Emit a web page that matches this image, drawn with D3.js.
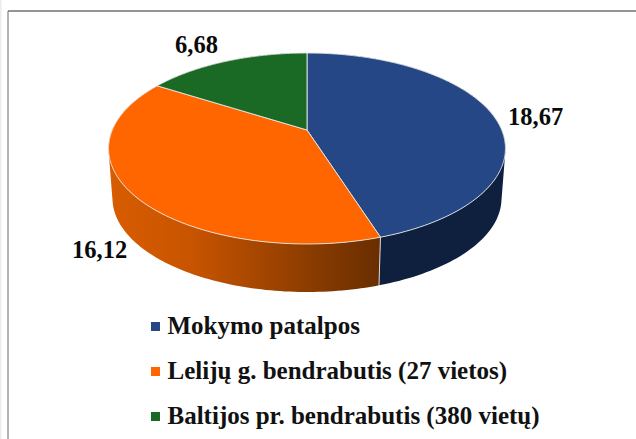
<!DOCTYPE html>
<html><head><meta charset="utf-8">
<script src="https://cdn.jsdelivr.net/npm/d3@7/dist/d3.min.js"></script>
<style>html,body{margin:0;padding:0;background:#fff}svg{display:block}</style>
</head><body><div id="c"></div>
<script>
const categories = ["Mokymo patalpos", "Lelijų g. bendrabutis (27 vietos)", "Baltijos pr. bendrabutis (380 vietų)"];
const values = [18.67, 16.12, 6.68];
const valueLabels = ["18,67", "16,12", "6,68"];
const topColors = ["#264785", "#ff6600", "#1a6a25"];
const labelPos = [[508,125],[72,258],[175,53]];

const W = 636, H = 439;
const svg = d3.select("#c").append("svg").attr("width", W).attr("height", H);
const defs = svg.append("defs");
const grad = defs.append("linearGradient").attr("id","og").attr("gradientUnits","userSpaceOnUse")
  .attr("x1",110).attr("x2",380).attr("y1",0).attr("y2",0);
grad.append("stop").attr("offset",0).attr("stop-color","#d85c00");
grad.append("stop").attr("offset",0.3).attr("stop-color","#c85400");
grad.append("stop").attr("offset",0.85).attr("stop-color","#7c3600");
grad.append("stop").attr("offset",1).attr("stop-color","#692e00");
const sideFills = ["#0f1f3e","url(#og)","#0f4a18"];

// frame
svg.append("rect").attr("x",0).attr("y",0).attr("width",1.5).attr("height",H).attr("fill","#ececec");
svg.append("line").attr("x1",8).attr("x2",W).attr("y1",11).attr("y2",11).attr("stroke","#2a2a2a").attr("stroke-width",1);
svg.append("line").attr("x1",8).attr("x2",8).attr("y1",11).attr("y2",H).attr("stroke","#6a6a6a").attr("stroke-width",1);

// projective pie
const cx = 307, cy = 130, k = 0.1937, Rx = 194.7, Ry = 91.9;
const scaleB = 0.98, depth = 50.3;
function project(a, bottom){
  const u = Math.sin(a), v = Math.cos(a), w = 1 + k*v;
  const x = Rx*u/w, y = -Ry*v/w;
  return bottom ? [cx + scaleB*x, cy + scaleB*y + depth] : [cx + x, cy + y];
}
const arcs = d3.pie().sort(null)(values);
const line = d3.line().curve(d3.curveLinear);
const samples = (a0,a1) => d3.range(0,121).map(i => a0 + (a1-a0)*i/120);

// sides: union of consistently wound quads, so the silhouette follows the rim tangents
const sides = svg.append("g");
[2,1,0].forEach(i=>{
  const d = arcs[i];
  const s = samples(d.startAngle,d.endAngle);
  const quads = d3.pairs(s).map(([a,b])=>{
    const q = [project(a,false),project(b,false),project(b,true),project(a,true)];
    return line(d3.polygonArea(q) < 0 ? q.reverse() : q)+"Z";
  });
  sides.append("path").attr("d",quads.join("")).attr("fill",sideFills[i]).attr("fill-rule","nonzero");
});
// seam on front side
const seam = arcs[0].endAngle;
svg.append("path").attr("d",line([project(seam,false),project(seam,true)]))
  .attr("stroke","#d8d8d8").attr("stroke-width",1).attr("fill","none");

// top
svg.append("g").selectAll("path").data(arcs).join("path")
  .attr("d",d=>line([[cx,cy]].concat(samples(d.startAngle,d.endAngle).map(a=>project(a,false))))+"Z")
  .attr("fill",(d,i)=>topColors[i]).attr("stroke","#e6e6e6").attr("stroke-width",0.9).attr("stroke-linejoin","round");

// labels
const font = "'Liberation Serif','Times New Roman',serif";
svg.append("g").selectAll("text").data(valueLabels).join("text")
  .attr("x",(d,i)=>labelPos[i][0]).attr("y",(d,i)=>labelPos[i][1])
  .attr("font-family",font).attr("font-weight","bold").attr("font-size",24.5).attr("fill","#0a0a0a").text(d=>d);

// legend
const ly = d3.scalePoint().domain(categories).range([334,424]);
const lg = svg.append("g").selectAll("g").data(categories).join("g");
lg.append("rect").attr("x",151).attr("y",d=>ly(d)-12).attr("width",9).attr("height",9).attr("fill",(d,i)=>topColors[i]);
lg.append("text").attr("x",167.5).attr("y",d=>ly(d)).attr("font-family",font).attr("font-weight","bold")
  .attr("font-size",25).attr("fill","#111").text(d=>d);
</script></body></html>
